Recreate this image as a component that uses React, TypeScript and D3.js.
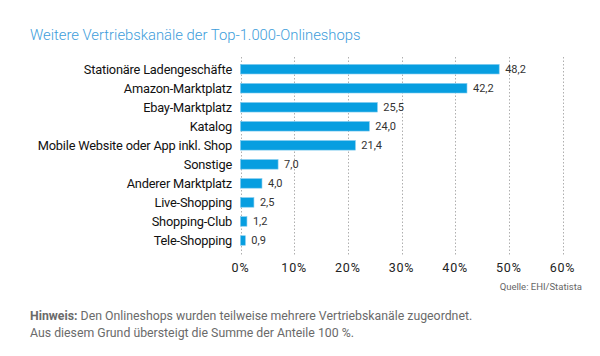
import React from "react";
import * as d3 from "d3";

const categories = [
  "Stationäre Ladengeschäfte",
  "Amazon-Marktplatz",
  "Ebay-Marktplatz",
  "Katalog",
  "Mobile Website oder App inkl. Shop",
  "Sonstige",
  "Anderer Marktplatz",
  "Live-Shopping",
  "Shopping-Club",
  "Tele-Shopping",
];
const values = [48.2, 42.2, 25.5, 24.0, 21.4, 7.0, 4.0, 2.5, 1.2, 0.9];
const ticks = [0, 10, 20, 30, 40, 50, 60];

const W = 600;
const H = 356;
const FONT = "Roboto, 'Noto Sans', sans-serif";

export default function App() {
  const x = d3.scaleLinear().domain([0, 60]).range([240.5, 562.5]);
  const y = d3
    .scaleBand<string>()
    .domain(categories)
    .range([59.7, 250])
    .paddingInner(0.5)
    .paddingOuter(0.25);
  const fmt = (v: number) => v.toFixed(1).replace(".", ",");

  return (
    <svg
      width={W}
      height={H}
      style={{ position: "absolute", left: 0, top: 0, background: "#fff" }}
      fontFamily={FONT}
    >
      <text x={30} y={40} fontSize={14.8} fill="#3d9ddb" fontWeight={300}>
        Weitere Vertriebskanäle der Top-1.000-Onlineshops
      </text>

      {ticks.map((t) => (
        <g key={t}>
          <line
            x1={Math.round(x(t)) + 0.5}
            x2={Math.round(x(t)) + 0.5}
            y1={57}
            y2={256}
            stroke="#9a9a9a"
            strokeWidth={0.8}
            strokeDasharray="1.5,2"
          />
          <text
            x={x(t)}
            y={272}
            fontSize={12.5}
            fill="#222"
            textAnchor="middle"
            letterSpacing={0.8}
          >
            {t + "%"}
          </text>
        </g>
      ))}

      {categories.map((c, i) => {
        const yy = y(c)!;
        const bw = y.bandwidth();
        return (
          <g key={c}>
            <text
              x={232}
              y={yy + bw / 2 + 4.5}
              fontSize={12.8}
              fill="#111"
              textAnchor="end"
              letterSpacing={-0.2}
            >
              {c}
            </text>
            <rect
              x={x(0)}
              y={yy}
              width={x(values[i]) - x(0)}
              height={bw}
              fill="#079ee0"
              stroke="#7cc9ee"
              strokeWidth={0.6}
            />
            <text
              x={x(values[i]) + 6}
              y={yy + bw / 2 + 4}
              fontSize={11}
              fill="#333"
            >
              {fmt(values[i])}
            </text>
          </g>
        );
      })}

      <text x={582} y={290} fontSize={9.5} fill="#666" textAnchor="end">
        Quelle: EHI/Statista
      </text>

      <text x={30} y={320} fontSize={12.3} fill="#6a6a6a">
        <tspan fontWeight={700}>Hinweis:</tspan>
        <tspan> Den Onlineshops wurden teilweise mehrere Vertriebskanäle zugeordnet.</tspan>
      </text>
      <text x={30} y={337} fontSize={12.3} fill="#6a6a6a">
        Aus diesem Grund übersteigt die Summe der Anteile 100 %.
      </text>
    </svg>
  );
}
